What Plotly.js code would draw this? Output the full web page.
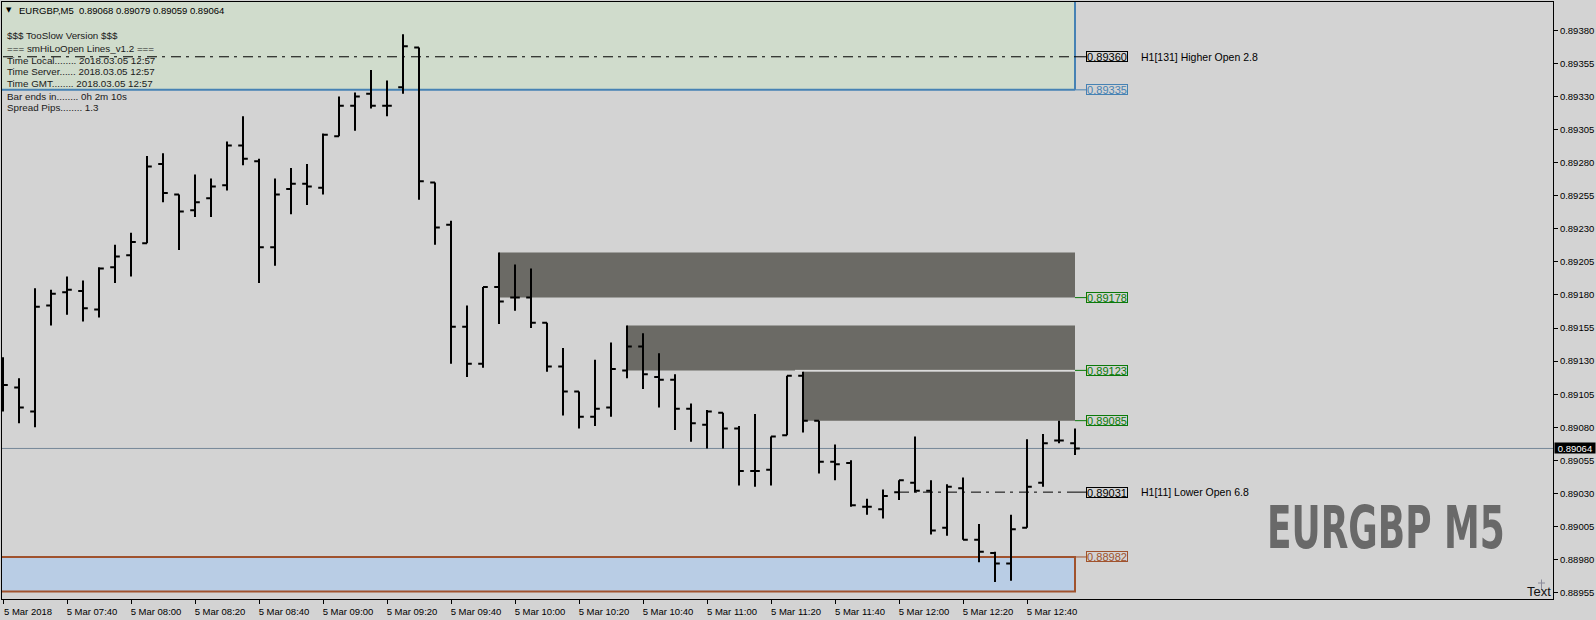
<!DOCTYPE html>
<html>
<head>
<meta charset="utf-8">
<script src="https://cdn.plot.ly/plotly-3.0.1.min.js"></script>
<style>
html,body{margin:0;padding:0;background:#d3d3d3;}
#chart{width:1596px;height:620px;}
</style>
</head>
<body>
<div id="chart"></div>
<script>
// ---- data (EURGBP M5, 5 Mar 2018, 07:20 .. 12:55) ----
const barTimes = ["07:20","07:25","07:30","07:35","07:40","07:45","07:50","07:55","08:00","08:05","08:10","08:15",
"08:20","08:25","08:30","08:35","08:40","08:45","08:50","08:55","09:00","09:05","09:10","09:15",
"09:20","09:25","09:30","09:35","09:40","09:45","09:50","09:55","10:00","10:05","10:10","10:15",
"10:20","10:25","10:30","10:35","10:40","10:45","10:50","10:55","11:00","11:05","11:10","11:15",
"11:20","11:25","11:30","11:35","11:40","11:45","11:50","11:55","12:00","12:05","12:10","12:15",
"12:20","12:25","12:30","12:35","12:40","12:45","12:50","12:55"];
const openP = [0.89116,0.89110,0.89092,0.89172,0.89182,0.89183,0.89169,0.89201,0.89210,0.89219,0.89279,0.89256,
0.89244,0.89253,0.89263,0.89293,0.89281,0.89216,0.89260,0.89264,0.89261,0.89300,0.89323,0.89332,
0.89323,0.89337,0.89367,0.89265,0.89233,0.89156,0.89128,0.89186,0.89178,0.89178,0.89159,0.89126,
0.89107,0.89088,0.89095,0.89123,0.89141,0.89118,0.89116,0.89094,0.89082,0.89091,0.89079,0.89047,
0.89048,0.89074,0.89119,0.89085,0.89054,0.89053,0.89020,0.89018,0.89031,0.89038,0.89032,0.89004,
0.89034,0.88995,0.88985,0.88977,0.89004,0.89038,0.89070,0.89068];
const highP = [0.89133,0.89117,0.89185,0.89184,0.89194,0.89191,0.89201,0.89218,0.89227,0.89285,0.89287,0.89256,
0.89271,0.89268,0.89296,0.89315,0.89283,0.89268,0.89276,0.89279,0.89302,0.89330,0.89333,0.89350,
0.89342,0.89377,0.89367,0.89265,0.89236,0.89172,0.89186,0.89212,0.89203,0.89200,0.89159,0.89140,
0.89107,0.89131,0.89144,0.89157,0.89151,0.89136,0.89120,0.89098,0.89093,0.89091,0.89081,0.89090,
0.89073,0.89119,0.89122,0.89085,0.89067,0.89055,0.89026,0.89033,0.89040,0.89073,0.89040,0.89037,
0.89042,0.89007,0.88986,0.89014,0.89071,0.89075,0.89085,0.89079];
const lowP = [0.89092,0.89083,0.89080,0.89157,0.89165,0.89160,0.89163,0.89189,0.89194,0.89219,0.89250,0.89214,
0.89239,0.89239,0.89259,0.89278,0.89189,0.89202,0.89241,0.89248,0.89256,0.89300,0.89304,0.89321,
0.89315,0.89332,0.89252,0.89218,0.89128,0.89118,0.89125,0.89158,0.89168,0.89155,0.89122,0.89089,
0.89079,0.89081,0.89088,0.89117,0.89109,0.89095,0.89078,0.89069,0.89064,0.89064,0.89036,0.89035,
0.89036,0.89074,0.89076,0.89045,0.89040,0.89020,0.89014,0.89011,0.89025,0.89031,0.88999,0.88998,
0.88995,0.88978,0.88963,0.88964,0.89004,0.89035,0.89068,0.89059];
const closeP = [0.89112,0.89095,0.89171,0.89181,0.89184,0.89170,0.89200,0.89209,0.89220,0.89277,0.89257,0.89243,
0.89250,0.89262,0.89293,0.89283,0.89216,0.89256,0.89264,0.89262,0.89301,0.89323,0.89330,0.89323,
0.89323,0.89368,0.89266,0.89231,0.89156,0.89128,0.89186,0.89175,0.89178,0.89159,0.89126,0.89107,
0.89088,0.89094,0.89124,0.89141,0.89120,0.89116,0.89094,0.89083,0.89092,0.89079,0.89047,0.89047,
0.89073,0.89119,0.89085,0.89054,0.89052,0.89021,0.89020,0.89028,0.89040,0.89032,0.89002,0.89035,
0.88995,0.88986,0.88977,0.89003,0.89035,0.89068,0.89070,0.89064];

const xTickBars = ["07:20","07:40","08:00","08:20","08:40","09:00","09:20","09:40","10:00","10:20","10:40",
"11:00","11:20","11:40","12:00","12:20","12:40"];
const xTickText = ["5 Mar 2018","5 Mar 07:40","5 Mar 08:00","5 Mar 08:20","5 Mar 08:40","5 Mar 09:00","5 Mar 09:20",
"5 Mar 09:40","5 Mar 10:00","5 Mar 10:20","5 Mar 10:40","5 Mar 11:00","5 Mar 11:20","5 Mar 11:40",
"5 Mar 12:00","5 Mar 12:20","5 Mar 12:40"];
const yTicks = [0.88955,0.88980,0.89005,0.89030,0.89055,0.89080,0.89105,0.89130,0.89155,0.89180,
0.89205,0.89230,0.89255,0.89280,0.89305,0.89330,0.89355,0.89380];

// zones (start bar time, top price, bottom price)
const zoneStarts = ["09:55","10:35","11:30"];
const zoneTops = [0.89212,0.89157,0.89122];
const zoneBottoms = [0.89178,0.89123,0.89085];
const upperZone = [0.89450,0.89335];
const lowerZone = [0.88982,0.88956];
const higherOpen = 0.89360, lowerOpen = 0.89031, lowerOpenStart = "12:00";
const bidPrice = 0.89064;

const infoLines = ["$$$ TooSlow Version $$$","=== smHiLoOpen Lines_v1.2 ===","Time Local........ 2018.03.05 12:57",
"Time Server...... 2018.03.05 12:57","Time GMT........ 2018.03.05 12:57","Bar ends in........ 0h 2m 10s","Spread Pips........ 1.3"];

// ---- helpers ----
const idx = t => barTimes.indexOf(t);
const xs = barTimes.map((t,i)=>i);
const L=2, R=43, T=2, B=21, PW=1596-L-R, PH=620-T-B;
const px = x => (x-L)/PW;
const py = y => (620-B-y)/PH;
const endX = 67, lblX = 67.69, txtX = 71.0;
const FONT = "Liberation Sans, Arial, sans-serif";

const shapes = [];
const ann = [];
// upper green zone
shapes.push({type:'rect',xref:'x',yref:'y',x0:-3,x1:endX,y0:upperZone[1],y1:upperZone[0],
  fillcolor:'#d0dccc',line:{width:0},layer:'below'});
shapes.push({type:'line',xref:'x',yref:'y',x0:-3,x1:endX,y0:upperZone[1],y1:upperZone[1],line:{color:'#4682b4',width:2},layer:'below'});
shapes.push({type:'line',xref:'x',yref:'y',x0:endX,x1:endX,y0:upperZone[1],y1:upperZone[0],line:{color:'#4682b4',width:2},layer:'below'});
// lower blue zone
shapes.push({type:'rect',xref:'x',yref:'y',x0:-3,x1:endX,y0:lowerZone[1],y1:lowerZone[0],
  fillcolor:'#b9cde5',line:{color:'#a0522d',width:2},layer:'below'});
// gray zones
zoneStarts.forEach((s,i)=>{
  shapes.push({type:'rect',xref:'x',yref:'y',x0:idx(s),x1:endX,y0:zoneBottoms[i],y1:zoneTops[i],
    fillcolor:'#6b6a65',line:{width:0},layer:'below'});
});
shapes.push({type:'line',xref:'x',yref:'y',x0:idx(zoneStarts[2])-0.5,x1:endX,y0:zoneBottoms[1],y1:zoneBottoms[1],
  line:{color:'#e4e4e4',width:1},layer:'below'});
// bid line
shapes.push({type:'line',xref:'paper',yref:'y',x0:0,x1:1,y0:bidPrice,y1:bidPrice,line:{color:'#778899',width:1},layer:'below'});
// open lines (dash-dot)
shapes.push({type:'line',xref:'x',yref:'y',x0:-3,x1:endX,y0:higherOpen,y1:higherOpen,line:{color:'#000',width:1,dash:'10px,5px,3px,6px'},layer:'below'});
shapes.push({type:'line',xref:'x',yref:'y',x0:idx(lowerOpenStart),x1:endX,y0:lowerOpen,y1:lowerOpen,line:{color:'#000',width:1,dash:'10px,5px,3px,6px'},layer:'below'});

// price label boxes
const labels = [
  {p:higherOpen,c:'#000000',t:'H1[131] Higher Open 2.8'},
  {p:upperZone[1],c:'#4682b4'},
  {p:zoneBottoms[0],c:'#0a7a0a'},
  {p:zoneBottoms[1],c:'#0a7a0a'},
  {p:zoneBottoms[2],c:'#0a7a0a'},
  {p:lowerOpen,c:'#000000',t:'H1[11] Lower Open 6.8'},
  {p:lowerZone[0],c:'#a0522d'}
];
labels.forEach(o=>{
  shapes.push({type:'line',xref:'x',yref:'y',x0:endX,x1:lblX,y0:o.p,y1:o.p,line:{color:o.c,width:1}});
  ann.push({xref:'x',yref:'y',x:lblX,y:o.p,xanchor:'left',yanchor:'middle',text:o.p.toFixed(5),showarrow:false,
    width:40,height:9,align:'center',valign:'middle',
    font:{family:FONT,size:11,color:o.c},bordercolor:o.c,borderwidth:1,borderpad:0,bgcolor:'rgba(0,0,0,0)'});
  if(o.t) ann.push({xref:'x',yref:'y',x:txtX,y:o.p,xanchor:'left',yanchor:'middle',text:o.t,showarrow:false,
    font:{family:FONT,size:10.5,color:'#000'}});
});

// bid box on axis
ann.push({xref:'paper',yref:'y',x:1,y:bidPrice,xanchor:'left',yanchor:'middle',xshift:1,text:bidPrice.toFixed(5),showarrow:false,
  width:40,height:10,align:'center',valign:'middle',
  font:{family:FONT,size:9.5,color:'#fff'},bgcolor:'#000',borderpad:0});

// header
const last = barTimes.length-1;
ann.push({xref:'paper',yref:'paper',x:px(4),y:py(10),xanchor:'left',yanchor:'middle',text:'▼',showarrow:false,
  font:{family:'DejaVu Sans, sans-serif',size:7,color:'#000'}});
ann.push({xref:'paper',yref:'paper',x:px(17),y:py(10),xanchor:'left',yanchor:'middle',showarrow:false,
  text:'EURGBP,M5&nbsp;&nbsp;'+[openP[last],highP[last],lowP[last],closeP[last]].map(v=>v.toFixed(5)).join(' '),
  font:{family:FONT,size:9.5,color:'#000'}});
const infoY = [35,48,60,71.7,83.3,96,107.7];
infoLines.forEach((t,i)=>{
  ann.push({xref:'paper',yref:'paper',x:px(5),y:py(infoY[i]),xanchor:'left',yanchor:'middle',text:t,showarrow:false,
    font:{family:FONT,size:9.8,color:'#1a1a1a'}});
});
// big symbol text
ann.push({xref:'paper',yref:'paper',x:px(1265),y:py(527.5),xanchor:'left',yanchor:'middle',text:'<b>EURGBP M5</b>',showarrow:false,
  font:{family:'Liberation Sans Narrow, DejaVu Sans Condensed, Liberation Sans, sans-serif',size:59,color:'#696969'}});
// "Text" object
ann.push({xref:'paper',yref:'paper',x:1,y:py(591),xanchor:'right',yanchor:'middle',text:'Text',showarrow:false,
  font:{family:FONT,size:13,color:'#111'}});
shapes.push({type:'line',xref:'paper',yref:'paper',x0:px(1541.5),x1:px(1541.5),y0:py(579.5),y1:py(590),line:{color:'#8a8a9a',width:1}});
shapes.push({type:'line',xref:'paper',yref:'paper',x0:px(1538),x1:px(1545),y0:py(583),y1:py(583),line:{color:'#8a8a9a',width:1}});

const trace = {type:'ohlc',x:xs,open:openP,high:highP,low:lowP,close:closeP,
  increasing:{line:{color:'#000',width:2}},decreasing:{line:{color:'#000',width:2}},
  tickwidth:0.3,hoverinfo:'none',showlegend:false};

const layout = {
  width:1596,height:620,margin:{l:L,r:R,t:T,b:B,pad:0},
  paper_bgcolor:'#d3d3d3',plot_bgcolor:'#d3d3d3',
  font:{family:FONT,size:10,color:'#000'},
  showlegend:false,
  xaxis:{type:'linear',range:[(L-3)/16,(1596-R-3)/16],rangeslider:{visible:false},
    tickmode:'array',tickvals:xTickBars.map(idx),ticktext:xTickText,ticks:'outside',ticklen:4,tickcolor:'#000',
    ticklabelshift:25,tickfont:{family:FONT,size:9.5,color:'#000'},
    showgrid:false,zeroline:false,showline:true,linecolor:'#000',linewidth:1,mirror:true,fixedrange:true},
  yaxis:{side:'right',range:[0.8895024,0.8940139],tickmode:'array',tickvals:yTicks,ticktext:yTicks.map(v=>v.toFixed(5)),
    ticks:'outside',ticklen:4,tickcolor:'#000',tickfont:{family:FONT,size:9.5,color:'#000'},
    showgrid:false,zeroline:false,showline:true,linecolor:'#000',linewidth:1,mirror:true,fixedrange:true},
  shapes:shapes,annotations:ann
};

Plotly.newPlot('chart',[trace],layout,{displayModeBar:false,staticPlot:true}).then(gd=>{
  // compress the big symbol label horizontally to its narrow display width
  gd.querySelectorAll('.annotation-text').forEach(el=>{
    if(el.textContent==='EURGBP M5'){
      const bb=el.getBBox();
      const sx=237.7/bb.width;
      const prev=el.getAttribute('transform')||'';
      el.setAttribute('transform',prev+' translate('+bb.x+',0) scale('+sx+',1) translate('+(-bb.x)+',0)');
    }
  });
});
</script>
</body>
</html>
